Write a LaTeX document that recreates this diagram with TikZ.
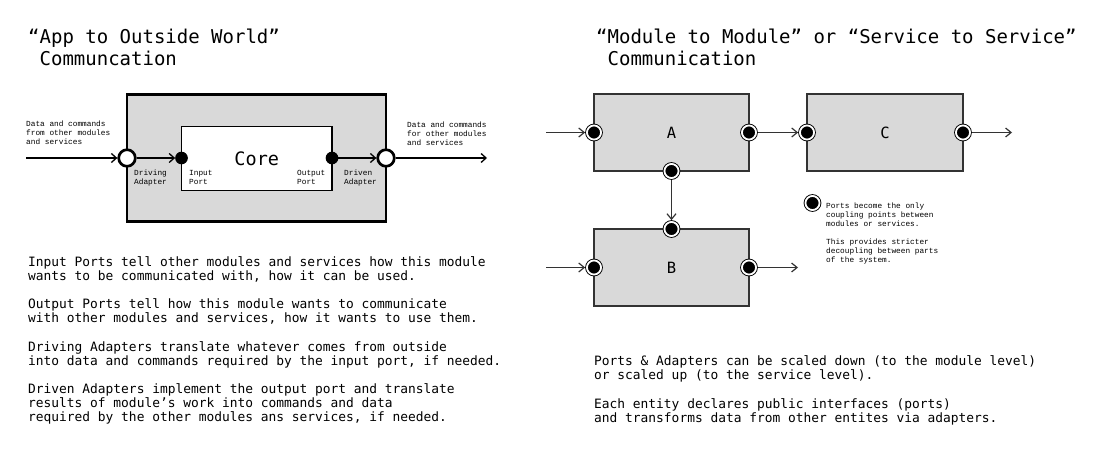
\documentclass[tikz,border=0pt]{standalone}
\usepackage{fontspec}
\newfontfamily\monofont{DejaVu Sans Mono}
\newfontfamily\smallmono{Liberation Mono}
\usetikzlibrary{arrows.meta}
\definecolor{boxgray}{HTML}{D9D9D9}
\definecolor{dark}{HTML}{333333}
\begin{document}
\begin{tikzpicture}[x=1pt,y=-1pt,
  % multi-line text nodes: the base anchor sits on the LAST line's baseline
  title/.style={anchor=base west, inner sep=0, align=left, font=\monofont\fontsize{19}{22}\selectfont},
  body/.style={anchor=base west, inner sep=0, align=left, font=\monofont\fontsize{12.88}{14.17}\selectfont},
  tiny/.style={anchor=base west, inner sep=0, align=left, font=\smallmono\fontsize{7.78}{9}\selectfont},
  outerbox/.style={draw=black, line width=2.7pt, fill=boxgray, inner sep=0, outer sep=0},
  corebox/.style={draw=black, line width=1.3pt, fill=white, inner sep=0, outer sep=0, font=\monofont\fontsize{18.5}{20}\selectfont},
  mbox/.style={draw=dark, line width=1.3pt, fill=boxgray, inner sep=0, outer sep=0, font=\monofont\fontsize{15.5}{18}\selectfont},
  adapter/.style={circle, draw=black, line width=2.7pt, fill=white, minimum size=16.6pt, inner sep=0, outer sep=1.35pt},
  lport/.style={circle, fill=black, minimum size=12.7pt, inner sep=0, outer sep=0},
  rport/.style={circle, fill=black, draw=black, line width=0.9pt, double=white, double distance=1.8pt, minimum size=14.1pt, inner sep=0, outer sep=1.8pt},
  larrow/.style={draw=black, line width=1.3pt, -{Straight Barb[length=5pt,width=9pt]}},
  rarrow/.style={draw=dark, line width=1.2pt, -{Straight Barb[length=5.5pt,width=9pt]}}
]
\useasboundingbox (0,0) rectangle (1113,452);

% ---------- titles ----------
\node[title] (t1) at (28,66) {“App to Outside World”\\\phantom{“}Communcation};
\node[title] (t2) at (596,66) {“Module to Module” or “Service to Service”\\\phantom{“}Communication};

% ---------- left diagram ----------
\node[outerbox, minimum width=259pt, minimum height=127.2pt] (outer) at (256.5,157.9) {};
\node[corebox, minimum width=150.5pt, minimum height=63.6pt] (core) at (256.75,158.5) {Core};

\node[adapter] (da) at (127,158) {};
\node[adapter] (dn) at (386,158) {};
\node[lport] (ip) at (181.5,158) {};
\node[lport] (op) at (332,158) {};
\coordinate (inL) at (26,158);
\coordinate (outR) at (487,158);

\draw[larrow] (inL) -- (da);
\draw[larrow] (da) -- (ip);
\draw[larrow] (op) -- (dn);
\draw[larrow] (dn) -- (outR);

\node[tiny] (l1) at (26,144.5) {Data and commands\\from other modules\\and services};
\node[tiny] (l2) at (407,145.5) {Data and commands\\for other modules\\and services};
\node[tiny] (l3) at (134,184.5) {Driving\\Adapter};
\node[tiny] (l4) at (189,184.5) {Input\\Port};
\node[tiny] (l5) at (297,184.5) {Output\\Port};
\node[tiny] (l6) at (344,184.5) {Driven\\Adapter};

% ---------- left text ----------
\node[body] (p1) at (28,280.2) {Input Ports tell other modules and services how this module\\wants to be communicated with, how it can be used.};
\node[body] (p2) at (28,322.7) {Output Ports tell how this module wants to communicate\\with other modules and services, how it wants to use them.};
\node[body] (p3) at (28,365.2) {Driving Adapters translate whatever comes from outside\\into data and commands required by the input port, if needed.};
\node[body] (p4) at (28,421.8) {Driven Adapters implement the output port and translate\\results of module’s work into commands and data\\required by the other modules ans services, if needed.};

% ---------- right diagram ----------
\node[mbox, minimum width=155pt, minimum height=77pt] (A) at (671.5,132.5) {A};
\node[mbox, minimum width=156pt, minimum height=77pt] (C) at (885,132.5) {C};
\node[mbox, minimum width=155pt, minimum height=77pt] (B) at (671.5,267.5) {B};

\node[rport] (Ain) at (A.west) {};
\node[rport] (Aout) at (A.east) {};
\node[rport] (Adown) at (A.south) {};
\node[rport] (Cin) at (C.west) {};
\node[rport] (Cout) at (C.east) {};
\node[rport] (Bup) at (B.north) {};
\node[rport] (Bin) at (B.west) {};
\node[rport] (Bout) at (B.east) {};

\coordinate (aL) at (546,132.5);
\coordinate (cR) at (1012,132.5);
\coordinate (bL) at (546,267.5);
\coordinate (bR) at (798,267.5);

\draw[rarrow] (aL) -- (Ain);
\draw[rarrow] (Aout) -- (Cin);
\draw[rarrow] (Cout) -- (cR);
\draw[rarrow] (Adown) -- (Bup);
\draw[rarrow] (bL) -- (Bin);
\draw[rarrow] (Bout) -- (bR);

% legend
\node[rport] (lg) at (812.5,203) {};
\node[tiny] (lgt) at (826,262) {Ports become the only\\coupling points between\\modules or services.\\[9pt]This provides stricter\\decoupling between parts\\of the system.};

% ---------- right text ----------
\node[body] (p5) at (594,379.9) {Ports \& Adapters can be scaled down (to the module level)\\or scaled up (to the service level).};
\node[body] (p6) at (594,422.4) {Each entity declares public interfaces (ports)\\and transforms data from other entites via adapters.};
\end{tikzpicture}
\end{document}
